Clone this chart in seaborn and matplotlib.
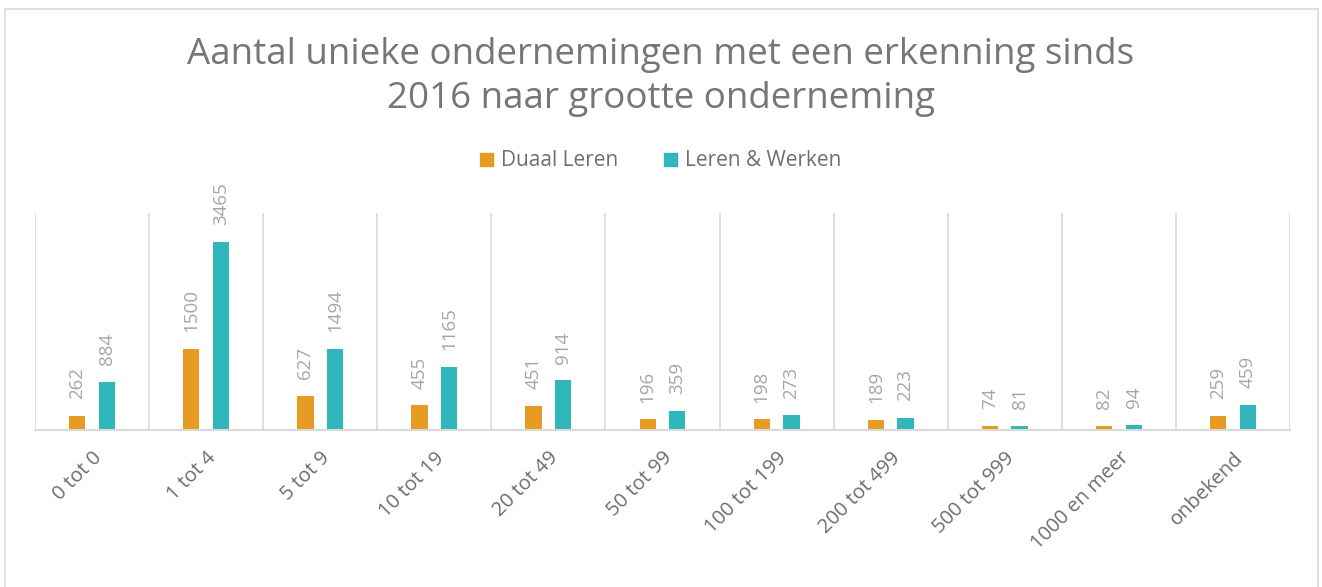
import matplotlib
matplotlib.use("Agg")
import matplotlib.pyplot as plt
import matplotlib.patches as mpatches
import seaborn as sns
import pandas as pd
import numpy as np

# Company size classes and number of unique companies per programme
categories = ["0 tot 0", "1 tot 4", "5 tot 9", "10 tot 19", "20 tot 49", "50 tot 99",
              "100 tot 199", "200 tot 499", "500 tot 999", "1000 en meer", "onbekend"]
duaal_leren = [262, 1500, 627, 455, 451, 196, 198, 189, 74, 82, 259]
leren_werken = [884, 3465, 1494, 1165, 914, 359, 273, 223, 81, 94, 459]
series_names = ["Duaal Leren", "Leren & Werken"]
colors = ["#E69B22", "#2FB7BB"]
title = "Aantal unieke ondernemingen met een erkenning sinds\n2016 naar grootte onderneming"

df = pd.DataFrame({
    "categorie": categories * 2,
    "aantal": duaal_leren + leren_werken,
    "reeks": [series_names[0]] * len(categories) + [series_names[1]] * len(categories),
})

sns.set_theme(style="white")
plt.rcParams["font.family"] = ["Open Sans", "DejaVu Sans"]

fig = plt.figure(figsize=(13.22, 5.87), dpi=100)
ax = fig.add_axes([35 / 1322, 157 / 587, 1255 / 1322, 217 / 587])

sns.barplot(data=df, x="categorie", y="aantal", hue="reeks", palette=colors,
            order=categories, hue_order=series_names, width=0.52, gap=0.45,
            ax=ax, legend=False, saturation=1, edgecolor="none")

ax.set_ylim(0, 4000)
ax.set_xlim(-0.5, len(categories) - 0.5)
ax.set_xlabel("")
ax.set_ylabel("")
ax.set_yticks([])

# value labels above each bar, rotated vertically
for container in ax.containers:
    ax.bar_label(container, fmt="%d", rotation=90, padding=12,
                 color="#A6A6A6", fontsize=13.5)

# vertical separators between categories
ax.set_xticks(np.arange(-0.5, len(categories)), minor=True)
ax.grid(which="minor", axis="x", color="#D9D9D9", linewidth=1.2)
ax.tick_params(which="both", length=0)
for side in ["top", "right", "left"]:
    ax.spines[side].set_visible(False)
ax.spines["bottom"].set_color("#D9D9D9")
ax.spines["bottom"].set_linewidth(1.5)

ax.set_xticks(range(len(categories)))
ax.set_xticklabels(categories, rotation=45, ha="right", rotation_mode="anchor",
                   color="#6E6E6E", fontsize=14.5)
ax.tick_params(axis="x", which="major", pad=13)

fig.text(0.5, 1 - 77 / 587, title, ha="center", va="center", fontsize=26.5,
         color="#767676", linespacing=1.3)

handles = [mpatches.Patch(color=c, label=n) for c, n in zip(colors, series_names)]
fig.legend(handles=handles, loc="center", bbox_to_anchor=(0.5, 1 - 161 / 587),
           ncol=2, frameon=False, fontsize=15, labelcolor="#6E6E6E",
           handlelength=0.6, handleheight=0.6, handletextpad=0.4, columnspacing=2.2)

# outer chart frame
frame = mpatches.Rectangle((5 / 1322, -0.05), 1313 / 1322, 1.05 - 9 / 587,
                           transform=fig.transFigure, fill=False,
                           edgecolor="#D9D9D9", linewidth=1.2)
fig.patches.append(frame)

fig.savefig("out.png", dpi=100, facecolor="white")
